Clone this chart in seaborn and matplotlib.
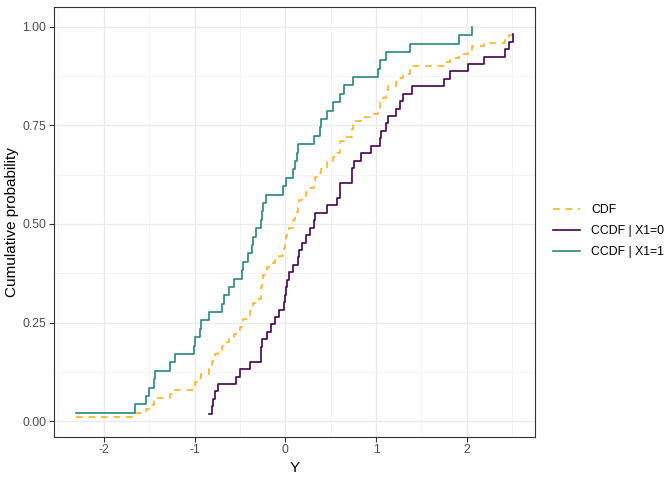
import numpy as np
import pandas as pd
import matplotlib.pyplot as plt
import seaborn as sns
from matplotlib.ticker import MultipleLocator

y_x1 = [-2.31, -1.66, -1.54, -1.50, -1.45, -1.44, -1.27, -1.21, -1.01, -1.00,
        -0.94, -0.93, -0.84, -0.70, -0.68, -0.62, -0.57, -0.48, -0.47, -0.41,
        -0.37, -0.36, -0.32, -0.27, -0.26, -0.24, -0.21, -0.02, 0.01, 0.085,
        0.11, 0.13, 0.135, 0.32, 0.385, 0.39, 0.46, 0.53, 0.60, 0.65,
        0.75, 1.02, 1.04, 1.11, 1.38, 1.92, 2.06]
y_x0 = [-0.84, -0.81, -0.80, -0.77, -0.74, -0.54, -0.50, -0.385, -0.27, -0.265,
        -0.26, -0.20, -0.154, -0.118, -0.073, -0.018, 0.0, 0.01, 0.02, 0.044,
        0.09, 0.14, 0.15, 0.18, 0.23, 0.275, 0.32, 0.325, 0.46, 0.57,
        0.60, 0.605, 0.73, 0.735, 0.76, 0.84, 0.94, 1.04, 1.05, 1.11,
        1.13, 1.22, 1.26, 1.30, 1.40, 1.75, 1.82, 2.01, 2.19, 2.42,
        2.46, 2.51, 2.95]
x_limit = 2.6  # values above this fall outside the plotted range
labels = ["CDF", "CCDF | X1=0", "CCDF | X1=1"]
colors = ["#FFB21F", "#440154", "#26887F"]

plt.rcParams["font.family"] = ["Liberation Sans", "DejaVu Sans"]


def ecdf(vals, name):
    v = np.sort(np.asarray(vals))
    return pd.DataFrame({"y": v, "p": np.arange(1, len(v) + 1) / len(v), "grp": name})


df = pd.concat([ecdf(y_x0 + y_x1, labels[0]),
                ecdf(y_x0, labels[1]),
                ecdf(y_x1, labels[2])], ignore_index=True)
df = df[df["y"] <= x_limit]

fig = plt.figure(figsize=(6.72, 4.8), dpi=100)
ax = fig.add_axes([0.080, 0.090, 0.716, 0.895])

sns.lineplot(data=df, x="y", y="p", hue="grp", style="grp",
             hue_order=labels, style_order=labels,
             palette=dict(zip(labels, colors)),
             dashes={labels[0]: (4, 3.5), labels[1]: "", labels[2]: ""},
             estimator=None, drawstyle="steps-post", linewidth=1.2, ax=ax)

# ggplot-style 5% expansion
lo, hi = df["y"].min(), df["y"].max()
pad = (hi - lo) * 0.05
ax.set_xlim(lo - pad, hi + pad)
plo, phi = df["p"].min(), 1.0
ppad = (phi - plo) * 0.05
ax.set_ylim(plo - ppad, phi + ppad)

ax.xaxis.set_minor_locator(MultipleLocator(0.5))
ax.yaxis.set_minor_locator(MultipleLocator(0.125))
ax.set_xticks([-2, -1, 0, 1, 2])
ax.set_xticklabels(["-2", "-1", "0", "1", "2"])
ax.set_yticks([0, 0.25, 0.5, 0.75, 1.0])
ax.set_yticklabels(["0.00", "0.25", "0.50", "0.75", "1.00"])

ax.set_axisbelow(True)
ax.grid(which="major", color="#EBEBEB", linewidth=1.0)
ax.grid(which="minor", color="#F2F2F2", linewidth=0.6)
for s in ax.spines.values():
    s.set_color("#333333")
    s.set_linewidth(0.8)
ax.tick_params(which="major", length=3.5, width=0.8, color="#333333",
               labelsize=8.8, labelcolor="#4D4D4D", pad=2)
ax.tick_params(which="minor", length=0)
ax.set_xlabel("Y", fontsize=11, labelpad=3)
ax.set_ylabel("Cumulative probability", fontsize=11, labelpad=2)

h, l = ax.get_legend_handles_labels()
ax.legend(h, l, loc="center left", bbox_to_anchor=(1.015, 0.479), frameon=False,
          fontsize=8.8, handlelength=2.2, handletextpad=0.9, labelspacing=0.75)

fig.savefig("out.png", dpi=100)
